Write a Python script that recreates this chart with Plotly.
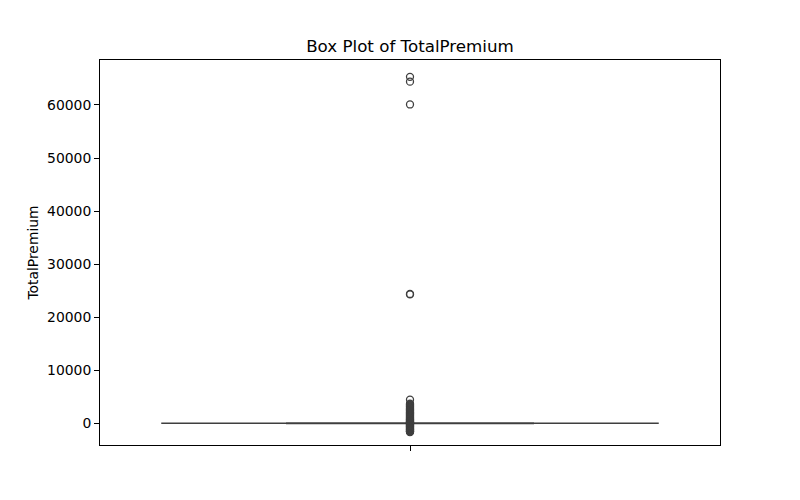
import plotly.graph_objects as go

# Box statistics (box collapsed near zero)
q1 = [0]
median = [2]
q3 = [22]
lowerfence = [-30]
upperfence = [55]

# Outlier values
outliers_high = [65300, 64400, 60100]
outliers_mid = [24380, 24300]
outliers_low = [4450, 3700, 3600, 3450, 3350, 3200, 3100, 2950, 2850, 2700,
                2600, 2500, 2400, 2300, 2200, 2100, 2000, 1900, 1800, 1700,
                1600, 1500, 1400, 1300, 1200, 1100, 1000, 900, 820, 750, 680,
                600, 520, 450, 380, 300, 250, 200, 150, 100, 50, -50, -100,
                -150, -200, -280, -350, -420, -500, -580, -650, -720, -800,
                -880, -950, -1020, -1100, -1180, -1250, -1320, -1400, -1480,
                -1550, -1600, -1640]
outliers = outliers_high + outliers_mid + outliers_low

y_ticks = [0, 10000, 20000, 30000, 40000, 50000, 60000]
title_text = "Box Plot of TotalPremium"
y_label = "TotalPremium"

line_col = "#3f3f3f"
font_fam = "DejaVu Sans"

fig = go.Figure()
fig.add_trace(go.Box(
    x=[0], q1=q1, median=median, q3=q3,
    lowerfence=lowerfence, upperfence=upperfence,
    width=0.8, whiskerwidth=0.5,
    fillcolor="#3274a1", line=dict(color=line_col, width=1.5),
    boxpoints=False, showlegend=False, hoverinfo="skip",
))
fig.add_trace(go.Scatter(
    x=[0] * len(outliers), y=outliers, mode="markers",
    marker=dict(symbol="circle-open", size=7, color=line_col,
                line=dict(width=1.3, color=line_col)),
    showlegend=False, hoverinfo="skip",
))

fig.update_layout(
    width=800, height=500,
    margin=dict(l=100, r=80, t=60, b=55),
    paper_bgcolor="white", plot_bgcolor="white",
    font=dict(family=font_fam, size=13.9, color="black"),
    title=dict(text=title_text, x=0.5, xref="paper", xanchor="center",
               y=1 - 46 / 500, yref="container", yanchor="middle",
               font=dict(family=font_fam, size=16.7, color="black")),
)
fig.update_xaxes(
    range=[-0.5, 0.5], tickvals=[0], ticktext=[""],
    ticks="outside", ticklen=4.9, tickwidth=1.1, tickcolor="black",
    showgrid=False, zeroline=False,
    showline=True, mirror=True, linecolor="black", linewidth=1.1,
)
fig.update_yaxes(
    range=[-4090, 68480], tickvals=y_ticks, tickformat="d",
    ticks="outside", ticklen=4.9, tickwidth=1.1, tickcolor="black",
    showgrid=False, zeroline=False,
    showline=True, mirror=True, linecolor="black", linewidth=1.1,
    title=dict(text=y_label, standoff=5,
               font=dict(family=font_fam, size=13.9, color="black")),
    tickfont=dict(family=font_fam, size=13.9, color="black"),
)

fig.write_html("out.html")
